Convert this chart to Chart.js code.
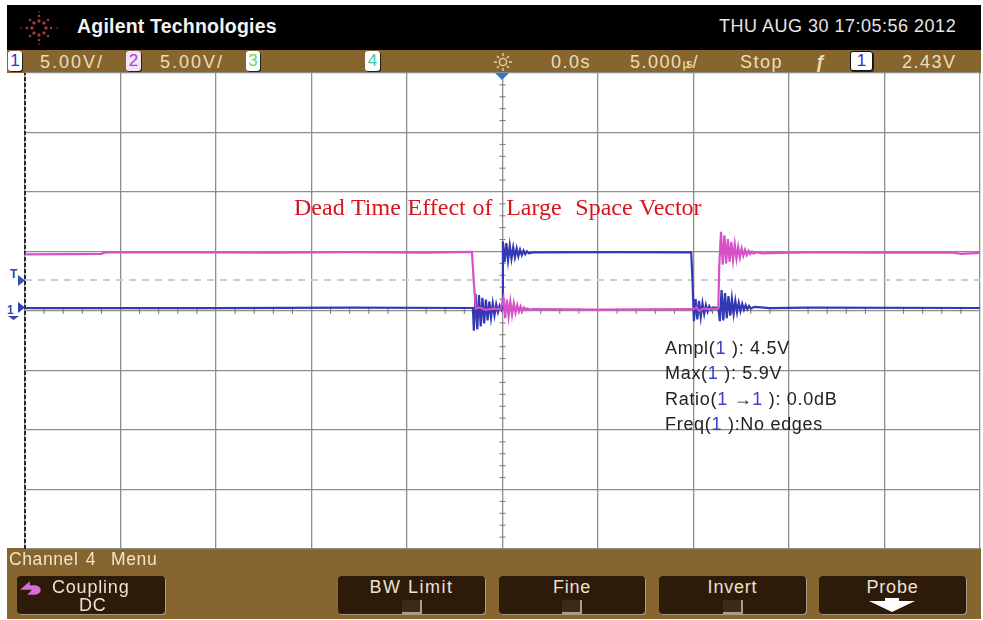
<!DOCTYPE html>
<html>
<head>
<meta charset="utf-8">
<script src="https://cdn.jsdelivr.net/npm/chart.js@4"></script>
<style>
html,body{margin:0;padding:0;background:#fff;width:983px;height:620px;overflow:hidden}
body{position:relative;font-family:"Liberation Sans",sans-serif}
.abs{position:absolute;white-space:pre;line-height:1}
#head{position:absolute;left:7px;top:5px;width:974px;height:45px;background:#000}
#bar{position:absolute;left:7px;top:50px;width:974px;height:23px;background:#86652f}
#foot{position:absolute;left:7px;top:548px;width:974px;height:71px;background:#86652f}
#plot{position:absolute;left:20px;top:68px;width:965px;height:486px;filter:blur(.4px)}
.tag{position:absolute;top:51px;height:20px;background:#fff;border-radius:3px;text-align:center;font-size:17px;line-height:20px;box-shadow:1px 1px 0 #221}
.bar{color:#f0dfb6;font-size:18px;top:53px;letter-spacing:1.5px}
.btn{position:absolute;top:576px;height:38px;background:#2e1a08;border-radius:4px;box-shadow:1px 1px 0 #a99a8c;color:#e9e3d6;font-size:18px;text-align:center;line-height:18px;padding-top:2px;box-sizing:border-box;letter-spacing:.8px}
.box{position:absolute;width:20px;height:14px;bottom:0;left:50%;margin-left:-10px;border-right:2px solid #a99a8c;border-bottom:2px solid #a99a8c;background:#3c2a18;box-sizing:border-box}
.m{left:665px;color:#222;font-size:18px;letter-spacing:.7px}
.m b{font-weight:normal;color:#3b3fd0}
</style>
</head>
<body>
<div id="head"></div><div id="bar"></div><div id="foot"></div>

<svg class="abs" style="left:18px;top:10px" width="42" height="36" viewBox="-21 -18 42 36">
<g fill="#a33a40"><circle r="1.7" cx="0" cy="-7"/><circle r="1.7" cx="5" cy="-5"/><circle r="1.7" cx="7" cy="0"/><circle r="1.7" cx="5" cy="5"/><circle r="1.7" cx="0" cy="7"/><circle r="1.7" cx="-5" cy="5"/><circle r="1.7" cx="-7" cy="0"/><circle r="1.7" cx="-5" cy="-5"/>
<circle r="1.3" cx="0" cy="-12"/><circle r="1.3" cx="9" cy="-8"/><circle r="1.3" cx="12" cy="0"/><circle r="1.3" cx="9" cy="8"/><circle r="1.3" cx="0" cy="12"/><circle r="1.3" cx="-9" cy="8"/><circle r="1.3" cx="-12" cy="0"/><circle r="1.3" cx="-9" cy="-8"/>
<circle r=".8" cx="0" cy="-16"/><circle r=".8" cx="18" cy="0"/><circle r=".8" cx="0" cy="16"/><circle r=".8" cx="-18" cy="0"/></g></svg>
<div class="abs" style="left:77px;top:17px;color:#f2f2f2;font-size:19.5px;font-weight:bold;letter-spacing:.2px">Agilent Technologies</div>
<div class="abs" style="left:719px;top:17px;color:#e6e6e6;font-size:18px;letter-spacing:.5px">THU AUG 30 17:05:56 2012</div>

<div class="tag" style="left:8px;width:14px;color:#3232c8">1</div>
<div class="abs bar" style="left:40px;letter-spacing:2px">5.00V/</div>
<div class="tag" style="left:126px;width:15px;color:#b03ccc;background:#f1e6f8">2</div>
<div class="abs bar" style="left:160px;letter-spacing:2px">5.00V/</div>
<div class="tag" style="left:246px;width:14px;color:#6fd46f">3</div>
<div class="tag" style="left:365px;width:15px;color:#3cc8a0">4</div>
<svg class="abs" style="left:491px;top:51px" width="24" height="22" viewBox="-12 -11 24 22"><g stroke="#e9d6a8" stroke-width="1.4" fill="none"><circle r="3.6"/><path d="M0-9V-6M0 6V9M-9 0H-6M6 0H9M-6-6L-4-4M4 4L6 6M-6 6L-4 4M4-4L6-6"/></g></svg>
<div class="abs bar" style="left:551px">0.0s</div>
<div class="abs bar" style="left:630px">5.000<span style="font-size:13px;letter-spacing:-4px">µs</span><span style="margin-left:4px">/</span></div>
<div class="abs bar" style="left:740px">Stop</div>
<div class="abs bar" style="left:815px;font-weight:bold;font-style:italic">ƒ</div>
<div class="tag" style="left:850px;width:23px;color:#3232c8;border:1px solid #111;box-sizing:border-box;line-height:18px">1</div>
<div class="abs bar" style="left:902px">2.43V</div>

<div id="plot"><canvas id="c" width="965" height="486"></canvas></div>

<svg class="abs" style="left:495px;top:73px" width="15" height="8"><path d="M0 0H14L7 7Z" fill="#2f78c4"/></svg>
<div class="abs" style="left:10px;top:268px;color:#3b3fb0;font-size:12px;font-weight:bold">T</div>
<svg class="abs" style="left:18px;top:275px" width="8" height="11"><path d="M0 0L7 5.5L0 11Z" fill="#2d52b5"/></svg>
<div class="abs" style="left:7px;top:304px;color:#3b3fb0;font-size:12px;font-weight:bold">1</div>
<svg class="abs" style="left:18px;top:302px" width="8" height="11"><path d="M0 0L7 5.5L0 11Z" fill="#2d3fb5"/></svg>
<svg class="abs" style="left:7px;top:316px" width="13" height="5"><path d="M1 0H12L6.5 4Z" fill="#3b3fb0"/></svg>

<div class="abs" style="left:294px;top:195px;color:#d8141c;font-family:'Liberation Serif',serif;font-size:24px;word-spacing:.8px">Dead Time Effect of  Large  Space Vector</div>
<div class="abs m" style="top:339px">Ampl(<b>1</b> ): 4.5V</div>
<div class="abs m" style="top:364px">Max(<b>1</b> ): 5.9V</div>
<div class="abs m" style="top:390px">Ratio(<b>1</b> →<b>1</b> ): 0.0dB</div>
<div class="abs m" style="top:415px">Freq(<b>1</b> ):No edges</div>

<div class="abs" style="left:9px;top:551px;color:#f1e5c8;font-size:17.5px;letter-spacing:.6px;word-spacing:2px">Channel 4  Menu</div>
<div class="btn" style="left:17px;width:148px;text-align:left"><span style="margin-left:35px">Coupling</span><br><span style="margin-left:62px">DC</span></div>
<svg class="abs" style="left:20px;top:578px" width="28" height="22" viewBox="0 0 28 22"><path d="M2 11L9 5V8H14A6 4 0 0 1 14 16H9L12 13A2 2 0 0 0 12 11Z" fill="#d76fd6" stroke="#d76fd6" stroke-width="1.5"/></svg>
<div class="btn" style="left:338px;width:147px;letter-spacing:1.5px">BW Limit<div class="box"></div></div>
<div class="btn" style="left:499px;width:146px">Fine<div class="box"></div></div>
<div class="btn" style="left:659px;width:147px">Invert<div class="box"></div></div>
<div class="btn" style="left:819px;width:147px">Probe<svg style="position:absolute;left:50px;top:22px" width="48" height="15"><path d="M0 3H16V0H30V3H46L23 14Z" fill="#fff"/></svg></div>

<script>
const xEnds = [-25, 25];
const yEnds = [-20, 20];
const gridStep = 5;

const pinkTime = [-25,-22.5,-21,-20.8,-16,-12,-8,-4,-1.6,-1.5,-1.4,-1.2,-0.9,-0.5,-0.1,
  0.05,0.14,0.23,0.32,0.41,0.5,0.59,0.68,0.77,0.86,0.95,1.04,1.13,1.22,1.31,1.4,1.6,5,9.9,10,10.15,10.3,10.5,10.8,11.3,
  11.35,11.44,11.53,11.62,11.71,11.8,11.89,11.98,12.07,12.16,12.25,12.34,12.43,12.52,12.61,12.7,12.79,12.88,12.97,13.06,13.15,13.3,13.6,14.5,16,20,23.5,24,25];
const pinkVolts = [4.75,4.78,4.8,4.92,4.93,4.9,4.94,4.9,4.96,2.4,0.2,0.3,0.1,0.2,0.15,
  1.1,-0.6,0.95,-0.45,0.8,-0.3,0.65,-0.15,0.5,-0.05,0.4,0.02,0.3,0.08,0.22,0.12,0.15,0.12,0.15,0.15,0.3,0.02,0.2,0.15,0.2,
  3.9,6.65,3.9,6.35,4,6.05,4.15,5.8,4.3,5.6,4.4,5.4,4.5,5.25,4.65,5.15,4.7,5.05,4.78,5,4.82,4.95,4.85,4.88,4.92,4.9,4.92,4.8,4.88];

const blueTime = [-25,-15,-8,-1.55,-1.5,-1.41,-1.32,-1.23,-1.14,-1.05,-0.96,-0.87,-0.78,-0.69,-0.6,-0.51,-0.42,-0.33,-0.24,-0.15,-0.06,-0.02,
  0.02,0.11,0.2,0.29,0.38,0.47,0.56,0.65,0.74,0.83,0.92,1.01,1.1,1.19,1.28,1.37,1.6,6,9.88,9.95,
  10.02,10.11,10.2,10.29,10.38,10.47,10.56,10.65,10.74,10.83,10.92,11.01,11.3,
  11.38,11.47,11.56,11.65,11.74,11.83,11.92,12.01,12.1,12.19,12.28,12.37,12.46,12.55,12.64,12.73,12.82,12.91,13,13.2,14,16,25];
const blueVolts = [0.25,0.25,0.28,0.25,-1.65,1.45,-1.55,1.35,-1.3,1.1,-1.05,0.95,-0.8,0.8,-0.55,0.65,-0.35,0.55,-0.1,0.45,0.1,0.25,
  5.85,4.1,5.7,4.25,5.5,4.4,5.35,4.5,5.25,4.6,5.15,4.7,5.08,4.78,5.02,4.85,4.92,4.95,4.92,2.5,
  -0.85,1,-0.7,0.85,-0.5,0.65,-0.25,0.5,-0.05,0.4,0.1,0.3,0.25,
  -0.85,1.75,-0.8,1.5,-0.6,1.25,-0.4,1.05,-0.25,0.85,-0.1,0.7,0,0.6,0.1,0.5,0.15,0.42,0.2,0.35,0.25,0.28,0.25];

const triggerTime = [-25, 25];
const triggerVolts = [2.6, 2.6];
const edgeVolts = [-20, 20];
const centreTicksX = [-24,-23,-22,-21,-19,-18,-17,-16,-14,-13,-12,-11,-9,-8,-7,-6,-4,-3,-2,-1,1,2,3,4,6,7,8,9,11,12,13,14,16,17,18,19,21,22,23,24];
const centreTicksY = [-19,-18,-17,-16,-14,-13,-12,-11,-9,-8,-7,-6,-4,-3,-2,-1,1,2,3,4,6,7,8,9,11,12,13,14,16,17,18,19];

const pts = (xs, ys) => xs.map((x, i) => ({x, y: ys[i]}));

new Chart(document.getElementById('c'), {
  type: 'scatter',
  data: { datasets: [
    { label:'Channel 2', data: pts(pinkTime, pinkVolts), showLine:true, borderColor:'#d850c8', borderWidth:2.2, pointRadius:0, order:1 },
    { label:'Channel 1', data: pts(blueTime, blueVolts), showLine:true, borderColor:'#3338b4', borderWidth:2.2, pointRadius:0, order:2 },
    { label:'Trigger level', data: pts(triggerTime, triggerVolts), showLine:true, borderColor:'#bcd0e8', borderWidth:2, borderDash:[7,6], pointRadius:0, order:3 },
    { label:'Left edge', data: edgeVolts.map(y => ({x:xEnds[0], y})), showLine:true, borderColor:'#2a2a2a', borderWidth:2, borderDash:[4,2], pointRadius:0, clip:false, order:4 },
    { label:'Horizontal ticks', data: centreTicksX.map(x => ({x, y:0})), pointStyle:'line', rotation:90, radius:3, borderColor:'#777', borderWidth:1, order:5 },
    { label:'Vertical ticks', data: centreTicksY.map(y => ({x:0, y})), pointStyle:'line', rotation:0, radius:3, borderColor:'#777', borderWidth:1, order:5 }
  ]},
  options: {
    responsive:false, animation:false, events:[],
    layout:{padding:0},
    plugins:{legend:{display:false}, tooltip:{enabled:false}, title:{display:false}},
    scales:{
      x:{type:'linear', min:xEnds[0], max:xEnds[1], ticks:{display:false, stepSize:gridStep}, border:{display:false},
         grid:{color:'#8d8d8a', lineWidth:1.3, drawTicks:false}},
      y:{type:'linear', min:yEnds[0], max:yEnds[1], ticks:{display:false, stepSize:gridStep}, border:{display:false},
         grid:{color:'#8d8d8a', lineWidth:1.3, drawTicks:false}}
    }
  }
});
</script>
</body>
</html>
